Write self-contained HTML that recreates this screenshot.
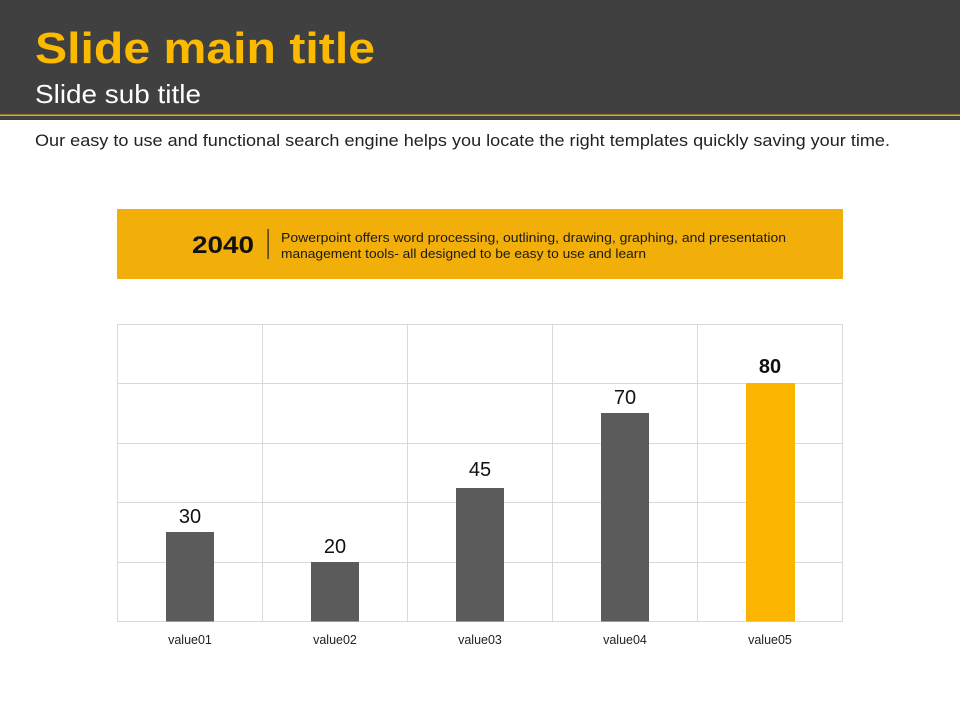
<!DOCTYPE html>
<html><head><meta charset="utf-8"><style>
html,body{margin:0;padding:0;background:#fff;}
svg{display:block;}
</style></head><body>
<svg width="960" height="720" viewBox="0 0 960 720" xmlns="http://www.w3.org/2000/svg" font-family="Liberation Sans, DejaVu Sans, sans-serif">
<rect x="0" y="0" width="960" height="720" fill="#ffffff"/>
<rect x="0" y="0" width="960" height="120" fill="#404040"/>
<rect x="0" y="114.5" width="960" height="1.5" fill="#E8A812"/>
<text x="35" y="63" font-size="44" font-weight="bold" fill="#FBBA00" textLength="340" lengthAdjust="spacingAndGlyphs">Slide main title</text>
<text x="35" y="103" font-size="26" fill="#ffffff" textLength="166" lengthAdjust="spacingAndGlyphs">Slide sub title</text>
<text x="35" y="146" font-size="17" fill="#222222" textLength="855" lengthAdjust="spacingAndGlyphs">Our easy to use and functional search engine  helps you locate the right templates quickly saving your time.</text>

<rect x="117" y="209" width="726" height="70" fill="#F2AF0A"/>
<text x="192" y="253" font-size="24" font-weight="bold" fill="#111111" textLength="62" lengthAdjust="spacingAndGlyphs">2040</text>
<rect x="267.5" y="229" width="1.2" height="30" fill="#222222"/>
<text x="281" y="242" font-size="13" fill="#1a1a1a" textLength="505" lengthAdjust="spacingAndGlyphs">Powerpoint offers word processing, outlining, drawing, graphing, and presentation</text>
<text x="281" y="258" font-size="13" fill="#1a1a1a" textLength="365" lengthAdjust="spacingAndGlyphs">management tools- all designed to be easy to use and learn</text>

<g stroke="#D9D9D9" stroke-width="1" fill="none">
<line x1="117" y1="324.5" x2="843" y2="324.5"/>
<line x1="117" y1="383.5" x2="843" y2="383.5"/>
<line x1="117" y1="443.5" x2="843" y2="443.5"/>
<line x1="117" y1="502.5" x2="843" y2="502.5"/>
<line x1="117" y1="562.5" x2="843" y2="562.5"/>
<line x1="117" y1="621.5" x2="843" y2="621.5"/>
<line x1="117.5" y1="324" x2="117.5" y2="622"/>
<line x1="262.5" y1="324" x2="262.5" y2="622"/>
<line x1="407.5" y1="324" x2="407.5" y2="622"/>
<line x1="552.5" y1="324" x2="552.5" y2="622"/>
<line x1="697.5" y1="324" x2="697.5" y2="622"/>
<line x1="842.5" y1="324" x2="842.5" y2="622"/>
</g>

<rect x="166" y="532" width="48" height="89.5" fill="#5B5B5B"/>
<rect x="311" y="562" width="48" height="59.5" fill="#5B5B5B"/>
<rect x="456" y="488" width="48" height="133.5" fill="#5B5B5B"/>
<rect x="601" y="413" width="48" height="208.5" fill="#5B5B5B"/>
<rect x="746" y="383" width="49" height="238.5" fill="#FBB500"/>

<g font-size="20" fill="#111111" text-anchor="middle">
<text x="190" y="523">30</text>
<text x="335" y="553">20</text>
<text x="480" y="476">45</text>
<text x="625" y="404">70</text>
<text x="770" y="373" font-weight="bold">80</text>
</g>
<g font-size="12.5" fill="#222222" text-anchor="middle">
<text x="190" y="644">value01</text>
<text x="335" y="644">value02</text>
<text x="480" y="644">value03</text>
<text x="625" y="644">value04</text>
<text x="770" y="644">value05</text>
</g>
</svg>
</body></html>
